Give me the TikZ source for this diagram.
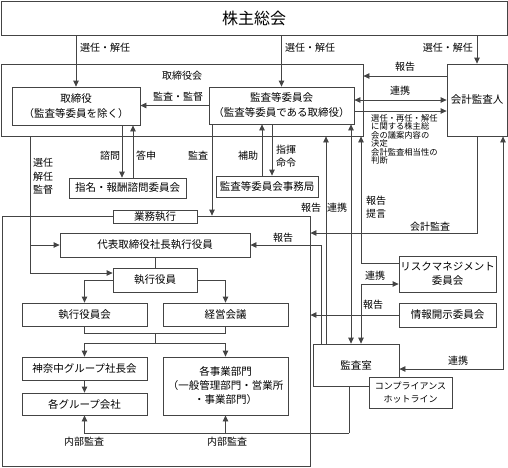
\documentclass[tikz,border=0pt]{standalone}
\usepackage{fontspec}
\setmainfont{Noto Sans CJK JP}
\usepackage{xcolor}
\usepackage{tikz}
\usetikzlibrary{arrows.meta,positioning,calc}

\definecolor{edgegray}{HTML}{444444}
\tikzset{
  box/.style={draw=edgegray, line width=0.8pt, inner sep=0pt, align=center,
    font=\fontsize{10.5}{14}\selectfont},
  lbl/.style={inner sep=0pt, align=center, font=\fontsize{10}{13.5}\selectfont},
  ln/.style={draw=edgegray, line width=0.8pt},
  arr/.style={ln, -{Triangle[length=6pt,width=5.5pt]}},
  dbl/.style={ln, {Triangle[length=6pt,width=5.5pt]}-{Triangle[length=6pt,width=5.5pt]}}
}

\begin{document}
\begin{tikzpicture}[x=1pt, y=-1pt]
    \useasboundingbox (0,0) rectangle (508,467);

    % frames
    \node[box, minimum width=362pt, minimum height=72pt] (torikai) at (182,100) {};
    \node[lbl] (torikailbl) at (182,76) {取締役会};
    \node[box, minimum width=308pt, minimum height=250pt] (gyomu) at (156,341) {};

    % boxes
    \node[box, minimum width=506pt, minimum height=34pt, font=\fontsize{16}{18}\selectfont] (soukai) at (254,18) {株主総会};
    \node[box, minimum width=128pt, minimum height=38pt, font=\fontsize{10.5}{15}\selectfont] (torishimari) at (76,106) {取締役\\（監査等委員を除く）};
    \node[box, minimum width=145pt, minimum height=37pt, font=\fontsize{10.5}{15}\selectfont] (kansaiin) at (281.5,105.5) {監査等委員会\\（監査等委員である取締役）};
    \node[box, minimum width=60pt, minimum height=72pt] (kaikei) at (477,100) {会計監査人};
    \node[box, minimum width=117pt, minimum height=20pt] (shimei) at (127.5,188) {指名・報酬諮問委員会};
    \node[box, minimum width=102pt, minimum height=21pt] (jimukyoku) at (267,186.5) {監査等委員会事務局};
    \node[box, fill=white, minimum width=84pt, minimum height=13pt] (gyomulbl) at (155,216.5) {業務執行};
    \node[box, minimum width=190pt, minimum height=24pt] (daihyo) at (155,245) {代表取締役社長執行役員};
    \node[box, minimum width=84pt, minimum height=24pt] (shikko) at (155,280) {執行役員};
    \node[box, minimum width=125pt, minimum height=23pt] (shikkokai) at (84.5,314.5) {執行役員会};
    \node[box, minimum width=125pt, minimum height=23pt] (keiei) at (225.5,314.5) {経営会議};
    \node[box, minimum width=125pt, minimum height=23pt] (shachokai) at (84.5,368.5) {神奈中グループ社長会};
    \node[box, minimum width=125pt, minimum height=22pt] (group) at (84.5,404) {各グループ会社};
    \node[box, minimum width=125pt, minimum height=58pt] (jigyo) at (225.5,386) {各事業部門\\（一般管理部門・営業所\\・事業部門）};
    \node[box, minimum width=86pt, minimum height=42pt] (kansashitsu) at (356,365) {監査室};
    \node[box, fill=white, minimum width=83pt, minimum height=31pt, font=\fontsize{9}{13}\selectfont] (hotline) at (410.5,392.5) {コンプライアンス\\ホットライン};
    \node[box, minimum width=97pt, minimum height=36pt] (risk) at (447.5,274) {リスクマネジメント\\委員会};
    \node[box, minimum width=97pt, minimum height=24pt] (joho) at (447.5,315) {情報開示委員会};

    % 株主総会
    \draw[arr] (soukai.south -| torishimari) -- (torishimari.north);
    \node[lbl, anchor=west] (sen1) at (80,48) {選任・解任};
    \draw[arr] (soukai.south -| kansaiin) -- (kansaiin.north);
    \node[lbl, anchor=west] (sen2) at (285,48) {選任・解任};
    \draw[arr] (soukai.south -| kaikei) -- (kaikei.north);
    \node[lbl, anchor=east] (sen3) at (473,48) {選任・解任};

    % 監査等委員会
    \draw[arr] (kansaiin.west) -- (kansaiin.west -| torishimari.east);
    \node[lbl] (kantoku) at (178,97) {監査・監督};
    \draw[arr] (kaikei.west |- 0,76) -- (torikai.east |- 0,76);
    \node[lbl] (hok1) at (405,67) {報告};
    \draw[dbl] (kansaiin.east |- 0,100) -- (kaikei.west |- 0,100);
    \node[lbl] (ren1) at (400,91) {連携};
    \draw[arr] (kansaiin.east |- 0,111) -- (kaikei.west |- 0,111);
    \node[lbl, anchor=north west, align=left, font=\fontsize{8.3}{8.5}\selectfont] (gian) at (371,114)
        {選任・再任・解任\\に関する株主総\\会の議案内容の\\決定\\会計監査相当性の\\判断};

    \draw[arr] (torishimari.south -| 122,0) -- (shimei.north -| 122,0);
    \draw[arr] (shimei.north -| 133,0) -- (torishimari.south -| 133,0);
    \node[lbl] (shimon) at (110,156) {諮問};
    \node[lbl] (toshin) at (146,156) {答申};
    \draw[arr] (kansaiin.south -| 212,0) -- (gyomu.north -| 212,0);
    \node[lbl] (kansa1) at (198,156) {監査};
    \draw[arr] (jimukyoku.north -| 262,0) -- (kansaiin.south -| 262,0);
    \draw[arr] (kansaiin.south -| 272,0) -- (jimukyoku.north -| 272,0);
    \node[lbl] (hojo) at (248,156) {補助};
    \node[lbl] (shiki) at (286,156) {指揮\\命令};

    % 取締役会 -> 執行
    \coordinate (sel) at (30,245);
    \draw[arr] (torikai.south -| sel) |- (shikko.west |- 0,273);
    \draw[arr] (sel) -- (sel -| daihyo.west);
    \node[lbl] (kainin) at (43,176.5) {選任\\解任\\監督};
    \draw[ln] (daihyo.south) -- (shikko.north);
    \draw[arr] (shikko.west) -| (shikkokai.north);
    \draw[arr] (shikko.east) -| (keiei.north);
    \coordinate (jn) at (155,343);
    \draw[ln] (shikkokai.south) -- ++(0,7) -| (keiei.south);
    \draw[ln] (jn) -- (jn |- 0,333);
    \draw[arr] (jn) -| (shachokai.north);
    \draw[arr] (jn) -| (jigyo.north);
    \draw[arr] (shachokai.south) -- (group.north);

    % 内部監査
    \coordinate (ia) at (349,433);
    \draw[ln] (kansashitsu.south -| ia) -- (ia);
    \draw[arr] (ia) -| (group.south);
    \draw[arr] (ia -| jigyo) -- (jigyo.south);
    \node[lbl] (naibu1) at (84,442) {内部監査};
    \node[lbl] (naibu2) at (227,442) {内部監査};

    % 会計監査人
    \draw[arr] (kaikei.south) |- (gyomu.east |- 0,233);
    \node[lbl] (kaikeikansa) at (430,227) {会計監査};
    \draw[dbl] (kansashitsu.east |- 0,369) -| (kaikei.south -| 503,0);
    \node[lbl] (ren2) at (458,361) {連携};

    % 監査室
    \draw[arr] (kansashitsu.north -| 321,0) |- (daihyo.east);
    \node[lbl] (hok2) at (283,238) {報告};
    \draw[arr] (kansashitsu.north -| 326,0) -- (torikai.south -| 326,0);
    \draw[dbl] (kansashitsu.north -| 351,0) -- (kansaiin.south -| 351,0);
    \node[lbl] (hok3) at (311,208) {報告};
    \node[lbl] (ren3) at (337,208) {連携};
    \draw[arr] (risk.west |- 0,263) -| (torikai.south -| 361,0);
    \node[lbl] (teigen) at (376,207) {報告\\提言};
    \draw[dbl] (kansashitsu.north -| 361,0) |- (risk.west |- 0,284);
    \node[lbl] (ren4) at (375,276) {連携};
    \draw[arr] (joho.west) -- (joho.west -| gyomu.east);
    \node[lbl] (hok4) at (373,305) {報告};
\end{tikzpicture}
\end{document}
